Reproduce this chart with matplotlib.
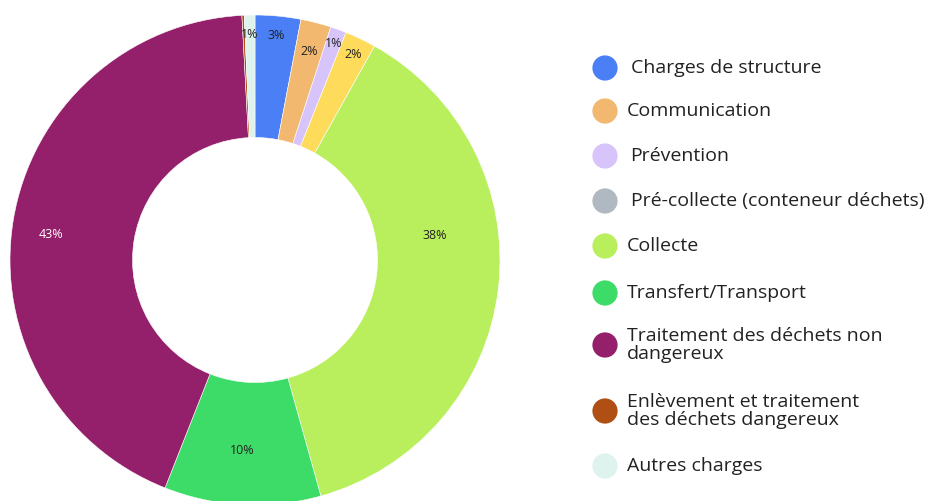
import numpy as np
import matplotlib.pyplot as plt

plt.rcParams['font.family'] = ['Open Sans', 'DejaVu Sans']

categories = [
    'Charges de structure',
    'Communication',
    'Prévention',
    'Pré-collecte (conteneur déchets)',
    'Collecte',
    'Transfert/Transport',
    'Traitement des déchets non\ndangereux',
    'Enlèvement et traitement\ndes déchets dangereux',
    'Autres charges',
]
# share of costs in %
values = [3.0, 2.0, 1.05, 2.05, 37.5, 10.3, 43.1, 0.15, 0.7]

slice_colors = ['#4a7ff5', '#f3b86f', '#d6c4fb', '#fedb5a', '#b9ee5c',
                '#3ddc68', '#941f6a', '#b04f14', '#dff3ee']
legend_colors = ['#4a7ff5', '#f3b86f', '#d6c4fb', '#b0b8c1', '#b9ee5c',
                 '#3ddc68', '#941f6a', '#b04f14', '#dff3ee']
label_radius = [0.92, 0.88, 0.94, 0.93, 0.74, 0.78, 0.84, 0.9, 0.92]
label_shift = [0, 0, 0, 0, 14.5, -1, 2, 0, 0]   # degrees, as placed in the original
label_color = ['#222222'] * 6 + ['white', '#222222', '#222222']

W, H = 939, 501
fig = plt.figure(figsize=(W / 100, H / 100), dpi=100)

# donut: centre (255, 260) px, radius 245 px
cx, cy, r = 255, 260, 245
ax = fig.add_axes([(cx - r) / W, (H - cy - r) / H, 2 * r / W, 2 * r / H])
wedges, _ = ax.pie(values, colors=slice_colors, startangle=90, counterclock=False,
                   radius=1, wedgeprops=dict(width=0.5, edgecolor='white', linewidth=0.4))
ax.set_xlim(-1, 1)
ax.set_ylim(-1, 1)
ax.axis('off')

total = sum(values)
for w, v, rr, sh, col in zip(wedges, values, label_radius, label_shift, label_color):
    pct = 100 * v / total
    if pct < 0.5:
        continue
    ang = np.deg2rad((w.theta1 + w.theta2) / 2 + sh)
    ax.text(rr * np.cos(ang), rr * np.sin(ang), f'{pct:.0f}%', ha='center', va='center',
            fontsize=9, color=col)

# legend drawn by hand in pixel space
lax = fig.add_axes([0, 0, 1, 1])
lax.set_xlim(0, W)
lax.set_ylim(H, 0)
lax.axis('off')
legend_y = [68, 111, 156, 201, 246, 293, 345, 411, 466]
legend_x = [631, 627, 630, 631, 627, 627, 627, 627, 627]
for name, col, x, y in zip(categories, legend_colors, legend_x, legend_y):
    lax.scatter([605], [y], s=330, color=col, edgecolors='none')
    lax.text(x, y, name, ha='left', va='center', fontsize=14, color='#222222',
             linespacing=1.05)

fig.savefig('out.png', dpi=100)
